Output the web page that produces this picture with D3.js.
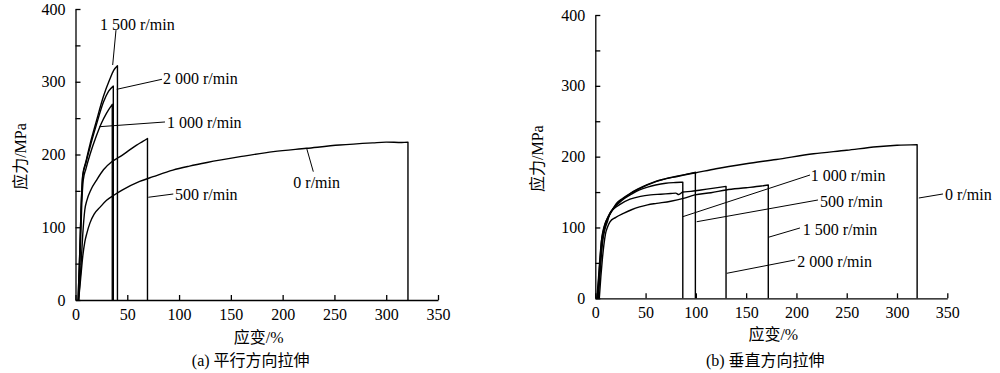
<!DOCTYPE html>
<html><head><meta charset="utf-8">
<script src="https://cdn.jsdelivr.net/npm/d3@7"></script>
<style>
body{margin:0;background:#fff;}
svg{display:block;}
svg text{font-family:"Liberation Serif","DejaVu Serif","Noto Sans CJK SC",serif !important;}
</style></head>
<body>
<svg id="chart" width="1000" height="373"></svg>
<script>
// ---------- data (strain %, stress MPa) ----------
const xTicks = [0,50,100,150,200,250,300,350];
const yTicks = [0,50,100,150,200,250,300,350,400];

// (a) parallel direction
const a1500Strain = [2.5,4,5.5,7,10,14,20,27,33,37,40.5,40.5];
const a1500Stress = [0,60,130,172,190,214,245,280,303,316,322,0];
const a2000Strain = [2.5,4,5.5,7,10,14,20,27,32,36.5,36.5];
const a2000Stress = [0,60,130,170,188,210,240,272,287,294,0];
const a1000Strain = [3,4.5,6,7.5,10,14,20,25,30,35.5,35.5];
const a1000Stress = [0,60,130,165,180,200,225,243,257,269,0];
const a500Strain  = [3,5,7,9,11,15,20,27,35,43,50,59,65,69.5,69.5];
const a500Stress  = [0,40,90,124,137,152,164,179,190,197,204,213,218,222,0];
const a0Strain    = [3,5,7,9,11,14,18,24,30,37,45,62,75,94,110,127,159,191,223,255,287,300,315,321,321];
const a0Stress    = [0,30,60,80,92,106,118,128,137,144,151,163,169.5,178.5,184,189,197,204,208.5,213,216,217,216.5,217,0];

// (b) perpendicular direction
const b0Strain    = [1.5,3,4.5,6,8,10,13,17,21,27,34.5,42,51,60,68,78,88,99,120,150,180,217,250,280,300,320,320];
const b0Stress    = [0,25,55,80,95,106,115,125,134,141,148,154,160,165,168,171,174,177,183,190,196,204,209,214,216,217,0];
const b500Strain  = [2.5,4,5.5,7,9,11,14,18,22,28,35,43,52,61,70,80,90,99.5,99.5];
const b500Stress  = [0,30,60,82,98,108,117,127,134,141,148,154,160,165,169,172,175,178,0];
const b1000Strain = [2,3.5,5,6.5,8.5,11,14,18,23,29,36,44,52,60,70,80,87,87];
const b1000Stress = [0,30,60,85,100,110,119,127,134,141,147,153,157,160,162.5,163.5,164,0];
const b2000Strain = [3,4.5,6,7.5,9.5,12,14.6,19,25,34.5,45,55,65,75,80,83,87,95,105,118,130,130];
const b2000Stress = [0,30,60,82,97,108,120,127,133,140,144,146,147,148,148.5,146.5,150,151,153,155.5,158,0];
const b1500Strain = [4,5.5,7,8.5,10,12,14.6,20,28,36,44,52,61,75,87.5,99,115,130,150,165,172,172];
const b1500Stress = [0,30,55,75,90,100,108,114,120,125,129,132,134,137,141,146,149,153,156,158.5,160,0];

// annotation anchors in data units: text centre-left, leader from -> to
const aLabels = [
  {t:"1 500 r/min", tx:23.7, ty:379, lx1:39.1, ly1:371, lx2:35.9, ly2:323},
  {t:"2 000 r/min", tx:84.5, ty:304.5, lx1:83.5, ly1:303.4, lx2:39.8, ly2:289.6},
  {t:"1 000 r/min", tx:88.3, ty:244.5, lx1:86.4, ly1:244.7, lx2:23, ly2:238.2},
  {t:"500 r/min", tx:96, ty:144.5, lx1:94.4, ly1:145.7, lx2:70.3, ly2:141.2},
  {t:"0 r/min", tx:210.3, ty:161.5, lx1:223.2, ly1:208.5, lx2:229.6, ly2:176.4}
];
const bLabels = [
  {t:"1 000 r/min", tx:214.2, ty:174.2, lx1:213.5, ly1:174.1, lx2:86.9, ly2:115.2},
  {t:"500 r/min", tx:223.4, ty:136.3, lx1:221.4, ly1:138.8, lx2:100.8, ly2:108.1},
  {t:"1 500 r/min", tx:206.2, ty:97.4, lx1:203.5, ly1:99.3, lx2:172, ly2:86.1},
  {t:"2 000 r/min", tx:200.9, ty:51.7, lx1:198.6, ly1:54.1, lx2:130.7, ly2:35.3},
  {t:"0 r/min", tx:347.7, ty:147.2, lx1:321.7, ly1:141.6, lx2:345.7, ly2:147.3}
];

const yTitle = "应力/MPa";
const xTitle = "应变/%";
const captions = ["(a) 平行方向拉伸","(b) 垂直方向拉伸"];

const FONT = '"Liberation Serif","DejaVu Serif","Noto Sans CJK SC",serif';

function zip(xs, ys){ return xs.map((x,i)=>[x, ys[i]]); }

const panels = [
  {x0:75.5, x1:438, y0:300, y1:9, series:[zip(a1500Strain,a1500Stress),zip(a2000Strain,a2000Stress),zip(a1000Strain,a1000Stress),zip(a500Strain,a500Stress),zip(a0Strain,a0Stress)], labels:aLabels, caption:captions[0], yTitleX:20, xTitleY:343, capY:366, xPad:9},
  {x0:595.3, x1:947.3, y0:298.3, y1:15, series:[zip(b0Strain,b0Stress),zip(b500Strain,b500Stress),zip(b1000Strain,b1000Stress),zip(b2000Strain,b2000Stress),zip(b1500Strain,b1500Stress)], labels:bLabels, caption:captions[1], yTitleX:537, xTitleY:340, capY:366, xPad:8}
];

const svg = d3.select("#chart");

panels.forEach(p=>{
  const x = d3.scaleLinear().domain([0,350]).range([p.x0,p.x1]);
  const y = d3.scaleLinear().domain([0,400]).range([p.y0,p.y1]);
  const g = svg.append("g").attr("font-family",FONT);

  const xAxis = d3.axisBottom(x).tickValues(xTicks).tickSizeInner(-5).tickSizeOuter(0).tickPadding(p.xPad).tickFormat(d3.format("d"));
  const yAxis = d3.axisLeft(y).tickValues(yTicks).tickSizeInner(-5).tickSizeOuter(0).tickPadding(10)
     .tickFormat(d=> d%100===0 ? d : "");

  const gx = g.append("g").attr("transform",`translate(0,${p.y0})`).call(xAxis);
  const gy = g.append("g").attr("transform",`translate(${p.x0},0)`).call(yAxis);
  [gx,gy].forEach(a=>{
    a.attr("font-family",FONT).attr("font-size",16);
    a.selectAll("path,line").attr("stroke","#000").attr("stroke-width",1.3);
    a.selectAll("text").attr("font-size",16).attr("fill","#000").attr("font-family",FONT);
  });

  // smooth curve up to fracture, then vertical drop to zero
  const curve = d3.line().x(d=>x(d[0])).y(d=>y(d[1])).curve(d3.curveMonotoneX);
  const pathFor = s => {
    const body = s.slice(0,-1);
    const end = s[s.length-1];
    return curve(body) + "L" + x(end[0]) + "," + y(end[1]);
  };
  g.selectAll("path.s").data(p.series).join("path")
    .attr("class","s").attr("d",pathFor).attr("fill","none")
    .attr("stroke","#000").attr("stroke-width",1.4).attr("stroke-linejoin","round");

  p.labels.forEach(l=>{
    g.append("line").attr("x1",x(l.lx1)).attr("y1",y(l.ly1)).attr("x2",x(l.lx2)).attr("y2",y(l.ly2))
      .attr("stroke","#000").attr("stroke-width",1);
    g.append("text").attr("x",x(l.tx)).attr("y",y(l.ty)).attr("dy","0.35em")
      .attr("font-size",16).attr("font-family",FONT).attr("fill","#000").text(l.t);
  });

  const cy = (p.y0+p.y1)/2 + 2;
  g.append("text").attr("transform",`translate(${p.yTitleX},${cy}) rotate(-90)`)
    .attr("text-anchor","middle").attr("dy","0.35em").attr("font-size",16).attr("font-family",FONT).text(yTitle);
  g.append("text").attr("x",(p.x0+p.x1)/2+2).attr("y",p.xTitleY)
    .attr("text-anchor","middle").attr("font-size",16).attr("font-family",FONT).text(xTitle);
  g.append("text").attr("x",(p.x0+p.x1)/2-6).attr("y",p.capY)
    .attr("text-anchor","middle").attr("font-size",16).attr("font-family",FONT).text(p.caption);
});
</script>
</body></html>
